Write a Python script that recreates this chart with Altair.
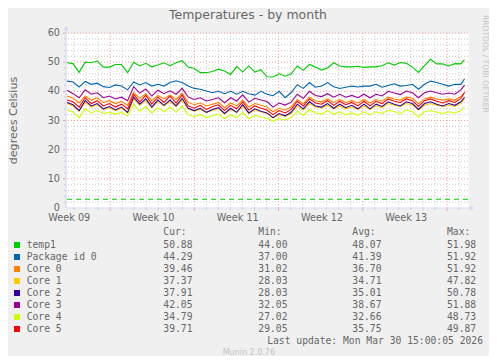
import altair as alt
import pandas as pd

# ---------------- data ----------------
names = ["temp1", "Package id 0", "Core 0", "Core 1", "Core 2", "Core 3", "Core 4", "Core 5"]
colors = ["#00CC00", "#0066B3", "#FF8000", "#FFCC00", "#330099", "#990099", "#CCFF00", "#FF0000"]
cur_vals = ["50.88", "44.29", "39.46", "37.37", "37.91", "42.05", "34.79", "39.71"]
min_vals = ["44.00", "37.00", "31.02", "28.03", "28.03", "32.05", "27.02", "29.05"]
avg_vals = ["48.07", "41.39", "36.70", "34.71", "35.01", "38.67", "32.66", "35.75"]
max_vals = ["51.98", "51.92", "51.92", "47.82", "50.78", "51.88", "48.73", "49.87"]

week_labels = ["Week 09", "Week 10", "Week 11", "Week 12", "Week 13"]
week_label_days = [0.27, 7.27, 14.27, 21.27, 28.27]
week_start_days = [3.66, 10.66, 17.66, 24.66, 31.66]
y_labels = [0, 10, 20, 30, 40, 50, 60]
dashed_level = [3.0]

# sample times (days since left edge), every half day
sample_days = [0.5 * i for i in range(66)] + [32.8]

temp1 = [49.8, 49.5, 46.5, 50.0, 49.8, 50.4, 48.3, 48.3, 49.2, 49.2,
         46.4, 50.0, 48.7, 49.6, 48.4, 49.0, 49.8, 48.8, 49.8, 50.5,
         48.3, 47.8, 46.4, 46.4, 46.8, 47.6, 47.0, 45.8, 48.5, 46.7,
         48.7, 46.6, 47.4, 45.0, 44.9, 46.0, 45.2, 46.0, 48.7, 47.2,
         49.2, 48.3, 47.3, 48.0, 49.8, 48.7, 48.4, 48.4, 48.6, 48.2,
         48.4, 48.4, 48.8, 49.8, 49.0, 49.9, 49.6, 48.3, 46.5, 48.8,
         51.0, 49.4, 49.4, 48.7, 49.5, 49.4, 50.9]
package0 = [43.5, 43.2, 41.5, 43.4, 42.4, 42.8, 41.6, 41.3, 42.2, 41.8,
            40.5, 43.2, 42.2, 43.0, 41.8, 42.4, 41.8, 43.0, 43.6, 43.0,
            41.8, 41.0, 40.7, 40.1, 39.5, 40.0, 39.2, 40.0, 39.0, 40.0,
            39.2, 38.7, 40.0, 39.0, 38.5, 40.0, 37.8, 39.6, 42.3, 41.0,
            43.0, 41.4, 41.8, 43.0, 41.6, 41.0, 41.4, 41.8, 41.5, 41.8,
            41.8, 42.4, 41.4, 42.0, 42.6, 41.8, 42.0, 42.4, 40.7, 42.4,
            43.5, 43.0, 42.4, 41.8, 42.4, 42.4, 44.3]
core0 = [38.4, 37.6, 36.0, 38.4, 37.0, 37.8, 36.2, 36.8, 35.8, 36.6,
         35.2, 39.6, 37.6, 39.2, 36.8, 38.6, 37.4, 38.8, 37.2, 39.4,
         36.2, 35.4, 36.0, 35.0, 35.6, 36.2, 34.4, 36.0, 35.0, 37.0,
         34.6, 35.8, 35.2, 34.6, 33.0, 34.2, 33.6, 34.6, 37.2, 35.8,
         38.0, 36.8, 36.4, 37.4, 36.2, 37.2, 36.2, 36.8, 36.0, 37.2,
         36.0, 37.2, 36.6, 38.0, 37.4, 37.0, 38.0, 37.6, 35.8, 37.4,
         38.0, 37.4, 37.0, 37.4, 37.0, 38.2, 39.5]
core1 = [35.8, 35.0, 33.2, 36.2, 34.6, 35.4, 33.8, 34.4, 33.4, 34.2,
         32.6, 37.4, 35.2, 36.8, 34.4, 36.4, 35.0, 36.4, 34.8, 37.0,
         34.0, 33.2, 33.8, 32.8, 33.4, 34.0, 32.2, 33.8, 32.8, 34.8,
         32.4, 33.6, 33.0, 32.4, 30.8, 32.0, 31.4, 32.4, 35.0, 33.6,
         35.8, 34.6, 34.2, 35.2, 34.0, 35.0, 34.0, 34.6, 33.8, 35.0,
         33.8, 35.0, 34.4, 35.8, 35.2, 34.8, 35.8, 35.4, 33.6, 35.2,
         35.8, 35.2, 34.8, 35.2, 34.8, 36.0, 37.4]
core2 = [36.2, 35.4, 33.4, 36.8, 35.0, 35.8, 34.0, 34.8, 33.6, 34.6,
         32.8, 38.0, 35.6, 37.4, 34.6, 37.0, 35.2, 37.0, 35.0, 37.6,
         34.2, 33.4, 34.2, 32.8, 33.8, 34.4, 32.4, 34.2, 32.8, 35.4,
         32.6, 34.0, 33.2, 32.6, 31.0, 32.4, 31.6, 32.8, 35.6, 34.0,
         36.4, 35.0, 34.6, 35.8, 34.2, 35.6, 34.4, 35.2, 34.0, 35.6,
         34.0, 35.6, 34.8, 36.4, 35.6, 35.0, 36.4, 35.8, 33.8, 35.8,
         36.4, 35.6, 35.0, 35.8, 35.2, 36.4, 37.9]
core3 = [40.4, 39.2, 37.8, 40.5, 39.0, 39.5, 37.8, 38.4, 37.4, 38.0,
         36.8, 41.6, 39.4, 40.8, 38.4, 40.4, 39.2, 40.2, 39.0, 41.0,
         38.0, 37.2, 37.8, 36.7, 37.2, 37.8, 36.1, 37.8, 36.7, 38.8,
         36.3, 37.6, 37.0, 36.5, 34.6, 36.0, 35.3, 36.3, 39.0, 37.6,
         40.0, 38.6, 38.2, 39.2, 38.0, 39.0, 38.0, 38.6, 37.8, 39.0,
         37.8, 39.0, 38.4, 40.0, 39.4, 38.9, 40.1, 39.5, 37.8, 39.5,
         40.1, 39.5, 39.0, 39.4, 39.0, 40.5, 42.1]
core4 = [33.6, 33.0, 31.0, 34.0, 32.6, 33.4, 32.4, 32.8, 32.2, 32.8,
         31.6, 35.6, 33.2, 34.8, 32.6, 34.4, 33.0, 34.6, 32.8, 35.0,
         32.0, 31.4, 32.0, 31.0, 31.6, 32.2, 30.6, 32.0, 31.0, 32.8,
         30.6, 31.8, 31.2, 30.8, 29.8, 30.6, 30.2, 31.0, 33.2, 31.8,
         33.6, 32.6, 32.2, 33.4, 32.2, 33.0, 32.0, 32.6, 31.8, 33.0,
         32.0, 33.0, 32.4, 33.6, 33.0, 32.4, 33.6, 33.0, 31.2, 33.0,
         33.4, 32.8, 32.4, 33.0, 32.6, 33.4, 34.8]
core5 = [37.0, 36.4, 34.6, 37.8, 35.8, 36.8, 35.0, 35.8, 34.6, 35.6,
         34.0, 39.0, 36.4, 38.6, 35.6, 38.0, 36.2, 38.4, 36.0, 38.8,
         35.0, 34.2, 35.2, 33.8, 34.8, 35.4, 33.4, 35.2, 34.0, 36.4,
         33.6, 35.0, 34.2, 33.6, 32.0, 33.4, 32.6, 33.8, 36.6, 35.0,
         37.4, 36.0, 35.6, 36.8, 35.2, 36.6, 35.4, 36.2, 35.0, 36.6,
         35.0, 36.6, 35.8, 37.4, 36.6, 36.2, 37.4, 36.8, 34.8, 36.8,
         37.4, 36.6, 36.0, 36.8, 36.2, 37.6, 39.7]
series_values = [temp1, package0, core0, core1, core2, core3, core4, core5]

# ---------------- layout constants ----------------
W, H = 402, 175
FONT = "DejaVu Sans"
MONO = "DejaVu Sans Mono"
TXT = "#666666"
AXISC = "#CFD6F8"
MINOR = "#CCCCCC"
MAJOR = "#F2A0A0"

# convert sample positions to the axis day scale
xdays = [round(0.083 + 1.007 * d, 3) for d in sample_days]

x_scale = alt.Scale(domain=[0, 33.4], nice=False, zero=False)
y_scale = alt.Scale(domain=[0, 60], nice=False, zero=False)


def X(field):
    return alt.X(field, scale=x_scale, axis=None)


def Y(field):
    return alt.Y(field, scale=y_scale, axis=None)


minor_x = [0.66 + k for k in range(33) if round(0.66 + k, 2) not in week_start_days]
minor_y = [v for v in range(2, 60, 2) if v % 10 != 0]
major_y = [10, 20, 30, 40, 50, 60]

layers = []

# grid
layers.append(alt.Chart(pd.DataFrame({"d": minor_x})).mark_rule(
    color=MINOR, strokeDash=[1, 2], strokeWidth=1).encode(x=X("d:Q")))
layers.append(alt.Chart(pd.DataFrame({"v": minor_y})).mark_rule(
    color=MINOR, strokeDash=[1, 2], strokeWidth=1).encode(y=Y("v:Q")))
layers.append(alt.Chart(pd.DataFrame({"d": week_start_days})).mark_rule(
    color=MAJOR, strokeDash=[1, 2], strokeWidth=1).encode(x=X("d:Q")))
layers.append(alt.Chart(pd.DataFrame({"v": major_y})).mark_rule(
    color=MAJOR, strokeDash=[1, 2], strokeWidth=1).encode(y=Y("v:Q")))

# small ticks outside the axes
layers.append(alt.Chart(pd.DataFrame({"d": minor_x})).mark_rule(
    color=MINOR, strokeWidth=1).encode(x=X("d:Q"), y=alt.value(H), y2=alt.value(H + 2)))
layers.append(alt.Chart(pd.DataFrame({"d": week_start_days})).mark_rule(
    color=MAJOR, strokeWidth=1).encode(x=X("d:Q"), y=alt.value(H), y2=alt.value(H + 3)))
layers.append(alt.Chart(pd.DataFrame({"v": minor_y})).mark_rule(
    color=MINOR, strokeWidth=1).encode(y=Y("v:Q"), x=alt.value(-2), x2=alt.value(0)))
layers.append(alt.Chart(pd.DataFrame({"v": major_y})).mark_rule(
    color=MAJOR, strokeWidth=1).encode(y=Y("v:Q"), x=alt.value(-3), x2=alt.value(0)))

# dashed level line
layers.append(alt.Chart(pd.DataFrame({"v": dashed_level})).mark_rule(
    color="#00CC00", strokeDash=[5, 4], strokeWidth=1).encode(y=Y("v:Q")))

# series lines (temp1 first, Core 5 last on top)
for name, col, vals in zip(names, colors, series_values):
    df = pd.DataFrame({"day": xdays, "temp": vals})
    layers.append(alt.Chart(df).mark_line(color=col, strokeWidth=1.1, clip=True).encode(
        x=X("day:Q"), y=Y("temp:Q")))

# axis labels (through the scales)
layers.append(alt.Chart(pd.DataFrame({"pos": week_label_days, "lab": week_labels})).mark_text(
    font=FONT, fontSize=9.7, color=TXT, align="center", baseline="middle").encode(
    x=X("pos:Q"), y=alt.value(H + 9.5), text="lab:N"))
layers.append(alt.Chart(pd.DataFrame({"v": y_labels})).mark_text(
    font=FONT, fontSize=9.7, color=TXT, align="right", baseline="middle").encode(
    y=Y("v:Q"), x=alt.value(-6), text=alt.Text("v:Q", format="d")))

# axis lines with arrows
layers.append(alt.Chart().mark_rule(color=AXISC, strokeWidth=1).encode(
    x=alt.value(0), x2=alt.value(W + 2), y=alt.value(H)))
layers.append(alt.Chart().mark_rule(color=AXISC, strokeWidth=1).encode(
    x=alt.value(0), y=alt.value(-3), y2=alt.value(H)))
layers.append(alt.Chart().mark_point(shape="triangle-right", filled=True, size=22,
                                     color=AXISC, opacity=1).encode(
    x=alt.value(W + 4), y=alt.value(H)))
layers.append(alt.Chart().mark_point(shape="triangle-up", filled=True, size=22,
                                     color=AXISC, opacity=1).encode(
    x=alt.value(0), y=alt.value(-5)))

# titles / watermark
layers.append(alt.Chart().mark_text(text="Temperatures - by month", font=FONT, fontSize=12.5,
                                    color=TXT, align="center", baseline="middle").encode(
    x=alt.value(182), y=alt.value(-18.5)))
layers.append(alt.Chart().mark_text(text="degrees Celsius", font=FONT, fontSize=11.1,
                                    color=TXT, align="center", baseline="middle", angle=270).encode(
    x=alt.value(-52.5), y=alt.value(H / 2)))
layers.append(alt.Chart().mark_text(text="RRDTOOL / TOBI OETIKER", font=FONT, fontSize=7.6,
                                    color="#C4C4C4", align="left", baseline="middle", angle=90).encode(
    x=alt.value(418.5), y=alt.value(-18)))

# legend table
leg = pd.DataFrame({
    "name": names, "cur": cur_vals, "min": min_vals, "avg": avg_vals, "max": max_vals,
    "ly": [212 + 12 * i for i in range(len(names))],
})
col_x = {"cur": 97.3, "min": 192.3, "avg": 286.3, "max": 381}
layers.append(alt.Chart(leg).mark_square(size=36, opacity=1).encode(
    x=alt.value(-49), y=alt.Y("ly:Q", scale=None, axis=None),
    color=alt.Color("name:N", scale=alt.Scale(domain=names, range=colors), legend=None)))
layers.append(alt.Chart(leg).mark_text(font=MONO, fontSize=9.7, color=TXT, align="left",
                                       baseline="middle").encode(
    x=alt.value(-39.3), y=alt.Y("ly:Q", scale=None, axis=None), text="name:N"))
headers = {"cur": "Cur:", "min": "Min:", "avg": "Avg:", "max": "Max:"}
for key, xpos in col_x.items():
    layers.append(alt.Chart(leg).mark_text(font=MONO, fontSize=9.7, color=TXT, align="left",
                                           baseline="middle").encode(
        x=alt.value(xpos), y=alt.Y("ly:Q", scale=None, axis=None), text="%s:N" % key))
    layers.append(alt.Chart().mark_text(text=headers[key], font=MONO, fontSize=9.7, color=TXT,
                                        align="left", baseline="middle").encode(
        x=alt.value(xpos), y=alt.value(199.3)))

layers.append(alt.Chart().mark_text(text="Last update: Mon Mar 30 15:00:05 2026", font=MONO,
                                    fontSize=9.7, color=TXT, align="right",
                                    baseline="middle").encode(
    x=alt.value(417), y=alt.value(307.7)))
layers.append(alt.Chart().mark_text(text="Munin 2.0.76", font=FONT, fontSize=8,
                                    color="#C4C4C4", align="center", baseline="middle").encode(
    x=alt.value(182.8), y=alt.value(319.7)))

chart = alt.layer(*layers).properties(
    width=W, height=H,
    autosize=alt.AutoSizeParams(type="none"),
    padding={"left": 58, "top": 25, "right": 21, "bottom": 148},
    background="#F0F0F0",
).configure_view(fill="#FFFFFF", stroke="transparent")

chart.save("out.html", embed_options={"renderer": "svg", "actions": False})
